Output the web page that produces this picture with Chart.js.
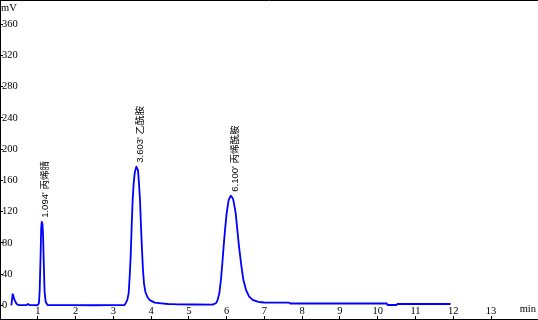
<!DOCTYPE html>
<html>
<head>
<meta charset="utf-8">
<script src="https://cdn.jsdelivr.net/npm/chart.js@4"></script>
<style>
  html, body { margin: 0; padding: 0; background: #fff; overflow: hidden; }
</style>
</head>
<body>
<canvas id="chart" width="538" height="320"></canvas>
<script>
'use strict';

// retention time (min) and detector signal (mV)
const times = [
  0.30, 0.32, 0.335, 0.35, 0.37, 0.40, 0.44, 0.50, 0.70, 0.74, 0.78,
  1.00, 1.03, 1.05, 1.075, 1.09, 1.105, 1.125, 1.14, 1.16, 1.18, 1.21, 1.26,
  2.50, 3.30, 3.37, 3.406, 3.433, 3.459, 3.486, 3.512, 3.539, 3.565, 3.609,
  3.654, 3.680, 3.707, 3.733, 3.760, 3.786, 3.813, 3.848, 3.901, 3.963, 4.095,
  4.448, 4.70, 5.60, 5.65, 5.72, 5.76, 5.807, 5.85, 5.887, 5.92, 5.957, 6.001,
  6.054, 6.107, 6.15, 6.178, 6.240, 6.284, 6.328, 6.381, 6.443, 6.513, 6.593,
  6.69, 6.84, 7.0, 7.65, 7.70, 10.24, 10.26, 10.50, 10.52, 11.93
];
const signal = [
  0, 8, 14.5, 13, 9, 5.5, 2, 0.5, 0.5, 2, 0.5,
  0.3, 3, 18, 65, 98, 107, 104, 90, 52, 18, 4.5, 0.5,
  0.3, 0.5, 7, 15.6, 36.8, 62, 100.8, 135, 156, 169, 177.5,
  173, 156, 135, 100.8, 71, 45, 28, 17.6, 11, 7, 3.6,
  1.9, 1.5, 1, 1.5, 3, 7, 15.6, 33, 54, 75, 96.5, 118,
  135, 140.4, 138, 135, 118, 96.5, 75.3, 54, 32.8, 20, 11.5,
  7.2, 4.5, 3.8, 3.6, 2.5, 2.5, 0.6, 0.6, 1.9, 1.9
];

// peak annotations
const peakTimes = [1.094, 3.603, 6.100];
const peakHeights = [107, 177.5, 140.4];
const peakNames = ["1.094' 丙烯腈", "3.603' 乙酰胺", "6.100' 丙烯酰胺"];

const axisFont = { family: 'Liberation Serif', size: 10.5 };

const points = times.map((t, i) => ({ x: t, y: signal[i] }));

// axes sit on the plot edges and take no room
function flat(scale) {
  if (scale.isHorizontal()) scale.height = 0; else scale.width = 0;
  scale.paddingTop = 0;
  scale.paddingBottom = 0;
  scale.paddingLeft = 0;
  scale.paddingRight = 0;
}

// axis units and peak labels, placed through the scales
const annotate = {
  id: 'annotate',
  afterDraw(chart) {
    const ctx = chart.ctx;
    const xs = chart.scales.x;
    const ys = chart.scales.y;
    const area = chart.chartArea;
    ctx.save();
    ctx.fillStyle = '#000';
    ctx.font = '10.5px "Liberation Serif"';
    ctx.textBaseline = 'middle';
    ctx.textAlign = 'left';
    ctx.fillText('mV', area.left + 1, area.top + 8);
    ctx.textAlign = 'right';
    ctx.fillText('min', area.right - 2, area.bottom - 10);

    ctx.font = '9.5px "Liberation Sans", "Noto Sans CJK SC"';
    ctx.textAlign = 'left';
    peakTimes.forEach((t, i) => {
      const px = xs.getPixelForValue(t) + 4.5;
      const py = ys.getPixelForValue(peakHeights[i]) - 4;
      ctx.save();
      ctx.translate(px, py);
      ctx.rotate(-Math.PI / 2);
      ctx.fillText(peakNames[i], 0, 0);
      ctx.restore();
    });
    ctx.restore();
  }
};

new Chart(document.getElementById('chart'), {
  type: 'line',
  data: {
    datasets: [{
      data: points,
      borderColor: '#0000ff',
      borderWidth: 1.8,
      pointRadius: 0,
      // tiny tension keeps Chart.js off its per-pixel fast path (it drew stray spikes)
      tension: 0.01,
      fill: false
    }]
  },
  options: {
    responsive: false,
    animation: false,
    events: [],
    layout: { padding: { top: 0, left: 0, right: 0, bottom: 1 } },
    plugins: {
      legend: { display: false },
      tooltip: { enabled: false }
    },
    scales: {
      x: {
        type: 'linear',
        position: 'bottom',
        min: 0,
        max: 14.244,
        afterFit: flat,
        border: { display: true, color: '#000', width: 1 },
        grid: {
          display: true,
          drawOnChartArea: false,
          drawTicks: true,
          tickLength: -3,
          color: (c) => (c.tick && c.tick.value >= 1 && c.tick.value <= 13) ? '#000' : 'rgba(0,0,0,0)'
        },
        ticks: {
          stepSize: 1,
          includeBounds: false,
          mirror: true,
          padding: 1,
          maxRotation: 0,
          autoSkip: false,
          color: '#000',
          font: axisFont,
          callback: (v) => (v >= 1 && v <= 13) ? String(v) : ''
        }
      },
      xTop: {
        type: 'linear',
        position: 'top',
        min: 0,
        max: 1,
        afterFit: flat,
        border: { display: true, color: '#000', width: 1 },
        grid: { display: false },
        ticks: { display: false }
      },
      y: {
        type: 'linear',
        position: 'left',
        min: -17.3,
        max: 390.7,
        afterFit: flat,
        border: { display: true, color: '#000', width: 1 },
        grid: {
          display: true,
          drawOnChartArea: false,
          drawTicks: true,
          tickLength: -3,
          color: '#000'
        },
        ticks: {
          stepSize: 40,
          includeBounds: false,
          mirror: true,
          padding: 2,
          autoSkip: false,
          color: '#000',
          font: axisFont,
          callback: (v) => (v >= 0 && v <= 360) ? String(v) : ''
        }
      }
    }
  },
  plugins: [annotate]
});
</script>
</body>
</html>
